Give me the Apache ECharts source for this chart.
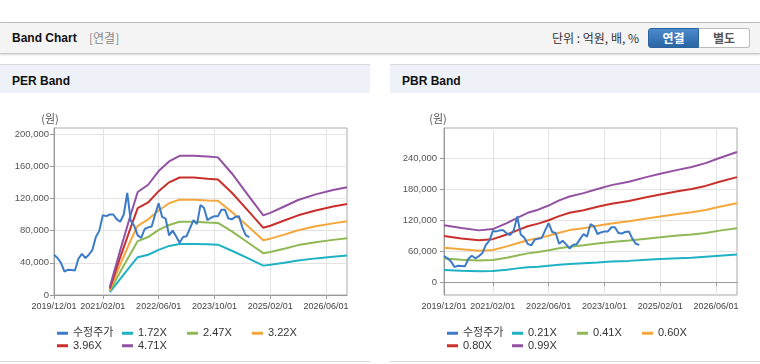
<!DOCTYPE html>
<html>
<head>
<meta charset="utf-8">
<script src="https://cdn.jsdelivr.net/npm/echarts@6.0.0/dist/echarts.min.js"></script>
<style>
html,body{margin:0;padding:0;}
body{width:760px;height:364px;overflow:hidden;background:#fff;position:relative;font-family:"Liberation Sans",Arial,"Noto Sans CJK KR",sans-serif;}
.bar{position:absolute;left:0;top:22px;width:760px;height:30px;background:#f4f4f4;border-top:1px solid #bdbdbd;border-bottom:1px solid #c6c6c6;box-shadow:0 1px 2px rgba(0,0,0,0.15);}
.title{position:absolute;left:12px;top:0;line-height:30px;font-size:12px;font-weight:bold;color:#111;}
.sub{position:absolute;left:89px;top:0;line-height:30px;font-size:12px;color:#888;font-family:"Noto Sans CJK KR",sans-serif;}
.unit{position:absolute;left:552px;top:0;line-height:30px;font-size:12px;color:#333;font-family:"Noto Sans CJK KR",sans-serif;}
.btn{position:absolute;top:5px;height:20px;width:51px;line-height:18px;text-align:center;font-size:12px;font-weight:bold;font-family:"Noto Sans CJK KR",sans-serif;box-sizing:border-box;}
.on{left:648px;background:linear-gradient(#4d8acb,#2a66a6);color:#fff;border:1px solid #2b63a0;border-radius:3px 0 0 3px;}
.off{left:699px;background:#fff;color:#555;border:1px solid #bbb;border-left:none;border-radius:0 3px 3px 0;}
.ph{position:absolute;top:64px;height:28px;width:370px;background:#eef2f8;border-top:1px solid #d8d8d8;}
.ph span{position:absolute;left:12px;top:1px;line-height:30px;font-size:12px;font-weight:bold;color:#111;}
.pb{position:absolute;top:361px;height:1px;width:370px;background:#d8d8d8;}
#chart{position:absolute;left:0;top:0;width:760px;height:364px;}
</style>
</head>
<body>
<div class="bar">
  <div class="title">Band Chart</div>
  <div class="sub">[연결]</div>
  <div class="unit">단위 : 억원, 배, %</div>
  <div class="btn on">연결</div>
  <div class="btn off">별도</div>
</div>
<div class="ph" style="left:0"><span>PER Band</span></div>
<div class="ph" style="left:390px"><span>PBR Band</span></div>
<div class="pb" style="left:0"></div>
<div class="pb" style="left:390px"></div>
<div id="chart"></div>
<script>
// ---------- data ----------
const categories = [];
for (let y = 2019, m = 12; categories.length < 85;) {
  categories.push(y + '/' + String(m).padStart(2, '0') + '/01');
  m++; if (m > 12) { m = 1; y++; }
}
const tickLabels = ['2019/12/01', '2021/02/01', '2022/06/01', '2023/10/01', '2025/02/01', '2026/06/01'];
const perTicks = [0, 40000, 80000, 120000, 160000, 200000];
const pbrTicks = [0, 60000, 120000, 180000, 240000];

// monthly adjusted price 2019/12 .. 2024/08
const price = [50000, 46000, 40000, 29000, 31500, 31000, 30500, 45000, 51000, 46000,
  50000, 56000, 72000, 80000, 99000, 98000, 100000, 100000, 94000, 91000,
  100000, 127000, 92000, 86000, 74000, 71000, 82000, 84000, 85000, 100000,
  114000, 97000, 95000, 74000, 80000, 73000, 65000, 72000, 73000, 83000,
  93000, 88000, 112000, 108000, 93000, 96000, 98000, 98000, 106000, 106000,
  95000, 94000, 97000, 98000, 84000, 74000, 72000];

// PER band (vertex month index -> value)
const perNames = ['1.72X', '2.47X', '3.22X', '3.96X', '4.71X'];
const perMonths = [16, 19, 22, 24, 27, 30, 33, 36, 40, 44, 47, 51, 56, 60, 62, 66, 70, 75, 80, 84];
const per172 = [3500, 20000, 36500, 47000, 50000, 56000, 61000, 63500, 63500, 63000, 62500, 55000, 45000, 36500, 37500, 40000, 43000, 45500, 47500, 49000];
const per247 = [5000, 29000, 52000, 67000, 72000, 81000, 87000, 91000, 91000, 90000, 89500, 79000, 64000, 52000, 53500, 57500, 62000, 65500, 68500, 70500];
const per322 = [6500, 38000, 68000, 86000, 94000, 105000, 114000, 118500, 118500, 117500, 117000, 103000, 84000, 68000, 70000, 75000, 80500, 85500, 89000, 91500];
const per396 = [8000, 47000, 84000, 108000, 115000, 129000, 140000, 146000, 146000, 144500, 143500, 127000, 103000, 83500, 86000, 92500, 99000, 105000, 110000, 113000];
const per471 = [10000, 56000, 100000, 128000, 137000, 154000, 166000, 173000, 173000, 172000, 171000, 151000, 122000, 99000, 102000, 110000, 118000, 125000, 130500, 134000];

// PBR band
const pbrNames = ['0.21X', '0.41X', '0.60X', '0.80X', '0.99X'];
const pbrMonths = [0, 5, 10, 14, 18, 21, 24, 27, 30, 33, 36, 40, 44, 48, 53, 58, 62, 67, 71, 75, 79, 84];
const pbr021 = [23500, 22000, 21000, 21500, 24000, 26500, 28500, 29500, 31500, 33500, 35000, 36500, 38000, 40000, 41000, 43000, 44500, 46000, 47000, 49000, 51000, 53500];
const pbr041 = [45500, 43000, 41500, 42500, 47000, 51500, 55500, 58000, 61500, 65500, 68500, 71000, 74500, 77500, 80500, 84000, 86500, 90000, 92000, 95000, 99500, 104000];
const pbr060 = [66500, 63500, 60500, 62000, 69000, 75000, 81000, 85000, 89500, 95500, 100500, 104000, 109000, 113500, 117500, 123000, 127000, 131500, 135000, 139500, 145500, 152500];
const pbr080 = [89000, 84500, 81000, 83000, 92000, 100000, 108000, 113000, 119500, 127500, 134000, 139000, 145500, 151500, 157000, 164000, 169500, 175500, 180000, 186000, 194000, 203000];
const pbr099 = [110000, 104500, 100000, 102500, 114000, 124000, 134000, 140000, 148000, 158000, 165500, 172000, 180000, 187500, 194000, 203000, 209500, 217000, 222500, 230000, 240000, 251500];

// ---------- styles ----------
const priceName = '수정주가';
const colors = ['#3b7bc8', '#1fb1c4', '#8fb955', '#f5a73b', '#c9302c', '#9351a2'];
const FONT = '"Liberation Sans", Arial, "Noto Sans CJK KR", sans-serif';
const isTick = (i, v) => tickLabels.indexOf(v) >= 0;
const fmt = v => v.toLocaleString('en-US');

function xAxisCfg(gi) {
  return {
    type: 'category', gridIndex: gi, data: categories, boundaryGap: false,
    axisLine: { lineStyle: { color: '#999' } },
    axisTick: { show: true, length: 4, interval: isTick, lineStyle: { color: '#999' } },
    axisLabel: { interval: isTick, fontSize: 9, color: '#444', margin: 7, fontFamily: FONT },
    splitLine: { show: true, interval: isTick, lineStyle: { color: '#e3e3e3' } }
  };
}
function yAxisCfg(gi, min, max, ticks, margin, pad) {
  return {
    type: 'value', gridIndex: gi, min: min, max: max,
    name: '(원)', nameLocation: 'end', nameGap: 4,
    nameTextStyle: { color: '#555', fontSize: 11, padding: [0, pad, 0, 0], fontFamily: '"Noto Sans CJK KR", sans-serif' },
    axisLine: { show: true, lineStyle: { color: '#999' } },
    axisTick: { show: true, length: 4, customValues: ticks, lineStyle: { color: '#999' } },
    axisLabel: { fontSize: 9.5, color: '#555', margin: margin, customValues: ticks, formatter: fmt, fontFamily: FONT },
    splitLine: { show: true, lineStyle: { color: '#e3e3e3' } }
  };
}
function lineSeries(name, gi, data, color, z) {
  return {
    name: name, type: 'line', xAxisIndex: gi, yAxisIndex: gi, data: data,
    showSymbol: false, symbol: 'none', z: z,
    lineStyle: { width: 2, color: color }, itemStyle: { color: color }
  };
}
function band(months, vals) { return months.map((m, i) => [categories[m], vals[i]]); }

const series = [
  lineSeries(priceName, 0, price, colors[0], 4),
  lineSeries(perNames[0], 0, band(perMonths, per172), colors[1], 2),
  lineSeries(perNames[1], 0, band(perMonths, per247), colors[2], 2),
  lineSeries(perNames[2], 0, band(perMonths, per322), colors[3], 2),
  lineSeries(perNames[3], 0, band(perMonths, per396), colors[4], 2),
  lineSeries(perNames[4], 0, band(perMonths, per471), colors[5], 2),
  lineSeries(priceName, 1, price, colors[0], 4),
  lineSeries(pbrNames[0], 1, band(pbrMonths, pbr021), colors[1], 2),
  lineSeries(pbrNames[1], 1, band(pbrMonths, pbr041), colors[2], 2),
  lineSeries(pbrNames[2], 1, band(pbrMonths, pbr060), colors[3], 2),
  lineSeries(pbrNames[3], 1, band(pbrMonths, pbr080), colors[4], 2),
  lineSeries(pbrNames[4], 1, band(pbrMonths, pbr099), colors[5], 2)
];

function legendCfg(left, names) {
  return {
    left: left, top: 322, width: 270, orient: 'horizontal',
    itemWidth: 11, itemHeight: 3, itemGap: 0, icon: 'rect',
    textStyle: { fontSize: 11, color: '#333', width: 49, lineHeight: 12.5, fontFamily: FONT },
    data: [priceName].concat(names)
  };
}

const chart = echarts.init(document.getElementById('chart'), null, { renderer: 'canvas' });
chart.setOption({
  animation: false,
  backgroundColor: 'transparent',
  grid: [
    { left: 54, top: 128, width: 293, height: 167, show: true, borderColor: '#aaa', borderWidth: 1, backgroundColor: 'transparent' },
    { left: 444, top: 128, width: 293, height: 167, show: true, borderColor: '#aaa', borderWidth: 1, backgroundColor: 'transparent' }
  ],
  xAxis: [xAxisCfg(0), xAxisCfg(1)],
  yAxis: [yAxisCfg(0, 0, 207500, perTicks, 5, 8), yAxisCfg(1, -25000, 298000, pbrTicks, 7, 12)],
  legend: [legendCfg(52, perNames), legendCfg(442, pbrNames)],
  series: series
});
</script>
</body>
</html>
